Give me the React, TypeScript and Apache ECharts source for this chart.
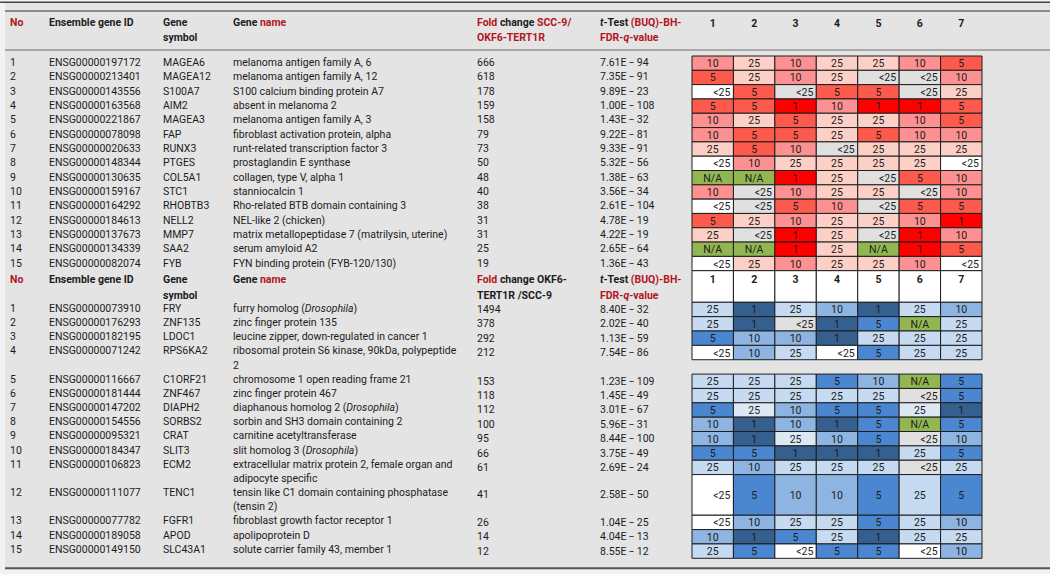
import React, { useEffect, useRef } from "react";
import * as echarts from "echarts";

type Tok = number | "lt" | "ltw" | "na" | "p25";

// ---------- data ----------
const HEAT_COLUMNS = ["1", "2", "3", "4", "5", "6", "7"];

const UP_ID = ["ENSG00000197172", "ENSG00000213401", "ENSG00000143556", "ENSG00000163568", "ENSG00000221867", "ENSG00000078098", "ENSG00000020633", "ENSG00000148344", "ENSG00000130635", "ENSG00000159167", "ENSG00000164292", "ENSG00000184613", "ENSG00000137673", "ENSG00000134339", "ENSG00000082074"];
const UP_SYMBOL = ["MAGEA6", "MAGEA12", "S100A7", "AIM2", "MAGEA3", "FAP", "RUNX3", "PTGES", "COL5A1", "STC1", "RHOBTB3", "NELL2", "MMP7", "SAA2", "FYB"];
const UP_NAME = [
  "melanoma antigen family A, 6",
  "melanoma antigen family A, 12",
  "S100 calcium binding protein A7",
  "absent in melanoma 2",
  "melanoma antigen family A, 3",
  "fibroblast activation protein, alpha",
  "runt-related transcription factor 3",
  "prostaglandin E synthase",
  "collagen, type V, alpha 1",
  "stanniocalcin 1",
  "Rho-related BTB domain containing 3",
  "NEL-like 2 (chicken)",
  "matrix metallopeptidase 7 (matrilysin, uterine)",
  "serum amyloid A2",
  "FYN binding protein (FYB-120/130)",
];
const UP_FOLD = [666, 618, 178, 159, 158, 79, 73, 50, 48, 40, 38, 31, 31, 25, 19];
const UP_Q = ["7.61E−94", "7.35E−91", "9.89E−23", "1.00E−108", "1.43E−32", "9.22E−81", "9.33E−91", "5.32E−56", "1.38E−63", "3.56E−34", "2.61E−104", "4.78E−19", "4.22E−19", "2.65E−64", "1.36E−43"];
const UP_CELLS: Tok[][] = [
  [10, 25, 10, 25, 25, 10, 5],
  [5, 25, 10, 25, "lt", "lt", 10],
  ["ltw", 5, "lt", 5, 5, "lt", 25],
  [5, 5, 1, 10, 1, 1, 5],
  [10, 25, 5, 25, 25, 10, 5],
  [10, 5, 5, 25, 5, 10, 10],
  [25, 5, 10, "lt", 25, 25, 25],
  ["ltw", 10, 25, 25, 25, 25, "ltw"],
  ["na", "na", 1, 25, "lt", 5, 10],
  [10, "lt", 10, 25, 25, "lt", 10],
  ["ltw", "lt", 5, 10, "lt", 5, 5],
  [5, 25, 10, 25, 25, 10, 1],
  [25, "lt", 1, 25, "lt", 1, 10],
  ["na", "na", 1, 25, "na", 1, 5],
  ["ltw", 25, 10, 25, 25, 10, "ltw"],
];

const LO_ID = ["ENSG00000073910", "ENSG00000176293", "ENSG00000182195", "ENSG00000071242", "ENSG00000116667", "ENSG00000181444", "ENSG00000147202", "ENSG00000154556", "ENSG00000095321", "ENSG00000184347", "ENSG00000106823", "ENSG00000111077", "ENSG00000077782", "ENSG00000189058", "ENSG00000149150"];
const LO_SYMBOL = ["FRY", "ZNF135", "LDOC1", "RPS6KA2", "C1ORF21", "ZNF467", "DIAPH2", "SORBS2", "CRAT", "SLIT3", "ECM2", "TENC1", "FGFR1", "APOD", "SLC43A1"];
const LO_NAME = [
  "furry homolog ({i|Drosophila})",
  "zinc finger protein 135",
  "leucine zipper, down-regulated in cancer 1",
  "ribosomal protein S6 kinase, 90kDa, polypeptide\n2",
  "chromosome 1 open reading frame 21",
  "zinc finger protein 467",
  "diaphanous homolog 2 ({i|Drosophila})",
  "sorbin and SH3 domain containing 2",
  "carnitine acetyltransferase",
  "slit homolog 3 ({i|Drosophila})",
  "extracellular matrix protein 2, female organ and\nadipocyte specific",
  "tensin like C1 domain containing phosphatase\n(tensin 2)",
  "fibroblast growth factor receptor 1",
  "apolipoprotein D",
  "solute carrier family 43, member 1",
];
const LO_FOLD = [1494, 378, 292, 212, 153, 118, 112, 100, 95, 66, 61, 41, 26, 14, 12];
const LO_Q = ["8.40E−32", "2.02E−40", "1.13E−59", "7.54E−86", "1.23E−109", "1.45E−49", "3.01E−67", "5.96E−31", "8.44E−100", "3.75E−49", "2.69E−24", "2.58E−50", "1.04E−25", "4.04E−13", "8.55E−12"];
const LO_CELLS: Tok[][] = [
  [25, 1, 25, 10, 1, 25, 10],
  [25, 1, "lt", 1, 5, "na", 25],
  [5, 10, 10, 1, 25, 25, 25],
  ["ltw", 10, 25, "ltw", 5, 25, 25],
  [25, 25, 25, 5, 10, "na", 5],
  [25, 25, 25, 25, 25, "lt", 5],
  [5, "p25", 10, 5, 5, "p25", 1],
  [10, 1, 10, 1, 5, "na", 5],
  [10, 1, "p25", 10, 5, "lt", 10],
  [5, 5, 1, 1, 1, 25, 5],
  [25, 10, 25, 25, 25, "lt", 25],
  ["ltw", 5, 10, 10, 5, 25, 5],
  ["ltw", 10, 25, 25, 5, 25, 10],
  [10, 1, 5, 25, 1, 25, 25],
  [25, 5, "ltw", 5, 5, "ltw", 10],
];

// ---------- layout & style ----------
const FONT = "Roboto";
const FS = 10.5;
const INK = "#1c1c1c";
const RED_INK = "#b3141d";
const BG = "#e4e4e4";
const COL_X = { no: 10, id: 49, sym: 163, name: 233, fold: 477, q: 600 };
const HEAT_LEFT = 692;
const HEAT_WIDTH = 290;
const UP_TOP = 56;
const UP_HEIGHT = 214.7;
const LO_TOP = 270.7;
const LO_BOTTOM = 558.3;
const LO_HEAD_UNITS = 2.2;
const LO_CELL_SPAN = [1, 1, 1, 1, 1, 1, 1, 1, 1, 1, 1, 2.83, 1, 1, 1];
const LO_GAP_BEFORE = [0, 0, 0, 0, 1, 0, 0, 0, 0, 0, 0, 0, 0, 0, 0];
const LO_TEXT_LINE0 = 301.2;
const LO_TEXT_LINE_PX = 14.18;

const RED: Record<string, string> = { "1": "#fe0000", "5": "#fb5a4c", "10": "#fd9191", "25": "#fdd0c7" };
const BLUE: Record<string, string> = { "1": "#345f8f", "5": "#4b87d1", "10": "#8eb4e1", "25": "#c6daf1", p25: "#dde8f5" };

const RICH: any = {
  i: { fontStyle: "italic", fontSize: FS, fontFamily: FONT, fill: INK },
  b: { fontWeight: "bold", fontSize: FS, fontFamily: FONT, fill: INK },
  bi: { fontWeight: "bold", fontStyle: "italic", fontSize: FS, fontFamily: FONT, fill: INK },
  r: { fontWeight: "bold", fontSize: FS, fontFamily: FONT, fill: RED_INK },
  ri: { fontWeight: "bold", fontStyle: "italic", fontSize: FS, fontFamily: FONT, fill: RED_INK },
};

function txt(text: string, x: number, y: number, extra: any = {}) {
  const style: any = {
    text, x, y, fill: INK, fontSize: FS, fontFamily: FONT,
    align: "left", verticalAlign: "middle", ...extra,
  };
  if (text.indexOf("{") >= 0) style.rich = RICH;
  return { type: "text", silent: true, style };
}

const fmtQ = (q: string) => q.replace("−", "\u2009\u2212\u2009");

function cellStyle(tok: Tok, pal: Record<string, string>) {
  if (tok === "lt") return { fill: "#e0e0e0", label: "<25", right: true };
  if (tok === "ltw") return { fill: "#ffffff", label: "<25", right: true };
  if (tok === "na") return { fill: "#92b752", label: "N/A", right: false };
  if (tok === "p25") return { fill: pal.p25, label: "25", right: false };
  return { fill: pal[String(tok)], label: String(tok), right: false };
}

function cellRenderer(tokens: Tok[], pal: Record<string, string>) {
  return (params: any, api: any) => {
    const c = api.value(0);
    const p0 = api.coord([c, api.value(1)]);
    const p1 = api.coord([c, api.value(2)]);
    const w = api.size([1, 0])[0];
    const x = p0[0] - w / 2;
    const top = Math.min(p0[1], p1[1]);
    const h = Math.abs(p1[1] - p0[1]);
    const s = cellStyle(tokens[params.dataIndex], pal);
    return {
      type: "group",
      children: [
        { type: "rect", shape: { x, y: top, width: w, height: h }, style: { fill: s.fill, stroke: "#1e1e1e", lineWidth: 1 } },
        txt(s.label, s.right ? x + w - 3 : x + w / 2, top + h / 2 + 0.5, { align: s.right ? "right" : "center" }),
      ],
    };
  };
}

function headerLines(cols: { x: number; lines: string[] }[], y1: number, dy: number) {
  const out: any[] = [];
  cols.forEach((c) => c.lines.forEach((l, k) => out.push({ ...txt(l, c.x, y1 + k * dy), z: 10 })));
  return out;
}

const UP_HEADER = [
  { x: COL_X.no, lines: ["{r|No}"] },
  { x: COL_X.id, lines: ["{b|Ensemble gene ID}"] },
  { x: COL_X.sym, lines: ["{b|Gene}", "{b|symbol}"] },
  { x: COL_X.name, lines: ["{b|Gene }{r|name}"] },
  { x: COL_X.fold, lines: ["{r|Fold}{b| change }{r|SCC-9/}", "{r|OKF6-TERT1R}"] },
  { x: COL_X.q, lines: ["{bi|t}{b|-Test }{r|(BUQ)-BH-}", "{r|FDR-}{ri|q}{r|-value}"] },
];
const LO_HEADER = [
  { x: COL_X.no, lines: ["{r|No}"] },
  { x: COL_X.id, lines: ["{b|Ensemble gene ID}"] },
  { x: COL_X.sym, lines: ["{b|Gene}", "{b|symbol}"] },
  { x: COL_X.name, lines: ["{b|Gene }{r|name}"] },
  { x: COL_X.fold, lines: ["{r|Fold}{b| change OKF6-}", "{b|TERT1R /SCC-9}"] },
  { x: COL_X.q, lines: ["{bi|t}{b|-Test }{r|(BUQ)-BH-}", "{r|FDR-}{ri|q}{r|-value}"] },
];

function buildOption(): any {
  // upper cells
  const upCellData: number[][] = [];
  const upTok: Tok[] = [];
  UP_CELLS.forEach((row, r) => row.forEach((t, c) => { upCellData.push([c, r, r + 1]); upTok.push(t); }));

  // lower cells
  const loTops: number[] = [];
  let acc = 0;
  LO_CELL_SPAN.forEach((s, i) => { acc += LO_GAP_BEFORE[i]; loTops.push(acc); acc += s; });
  const loEnd = acc;
  const loCellData: number[][] = [];
  const loTok: Tok[] = [];
  LO_CELLS.forEach((row, r) => row.forEach((t, c) => { loCellData.push([c, loTops[r], loTops[r] + LO_CELL_SPAN[r]]); loTok.push(t); }));

  // lower text lines
  const loLineStart: number[] = [];
  let line = 0;
  LO_NAME.forEach((n) => { loLineStart.push(line); line += n.split("\n").length; });

  const loPx = LO_BOTTOM - LO_TOP;
  const textMin = -(LO_TEXT_LINE0 - LO_TOP) / LO_TEXT_LINE_PX;
  const textMax = textMin + loPx / LO_TEXT_LINE_PX;

  const upTextSeries = {
    type: "custom", xAxisIndex: 0, yAxisIndex: 0, silent: true, z: 5,
    data: UP_ID.map((_, i) => [0, i]),
    renderItem: (params: any, api: any) => {
      const i = params.dataIndex;
      const y = api.coord([0, api.value(1) + 0.5])[1] - 0.5;
      return {
        type: "group",
        children: [
          txt(String(i + 1), COL_X.no, y),
          txt(UP_ID[i], COL_X.id, y),
          txt(UP_SYMBOL[i], COL_X.sym, y),
          txt(UP_NAME[i], COL_X.name, y),
          txt(String(UP_FOLD[i]), COL_X.fold, y),
          txt(fmtQ(UP_Q[i]), COL_X.q, y),
        ],
      };
    },
  };

  const loTextSeries = {
    type: "custom", xAxisIndex: 1, yAxisIndex: 2, silent: true, z: 5,
    data: LO_ID.map((_, i) => [0, loLineStart[i]]),
    renderItem: (params: any, api: any) => {
      const i = params.dataIndex;
      const l0 = api.value(1);
      const y = api.coord([0, l0 + 0.5])[1];
      const kids: any[] = [
        txt(String(i + 1), COL_X.no, y),
        txt(LO_ID[i], COL_X.id, y),
        txt(LO_SYMBOL[i], COL_X.sym, y),
      ];
      LO_NAME[i].split("\n").forEach((part, k) => {
        kids.push(txt(part, COL_X.name, api.coord([0, l0 + k + 0.5])[1]));
      });
      return { type: "group", children: kids };
    },
  };

  const loValueSeries = {
    type: "custom", xAxisIndex: 1, yAxisIndex: 1, silent: true, z: 5,
    data: LO_FOLD.map((_, i) => [0, loTops[i], loTops[i] + LO_CELL_SPAN[i]]),
    renderItem: (params: any, api: any) => {
      const i = params.dataIndex;
      const y = (api.coord([0, api.value(1)])[1] + api.coord([0, api.value(2)])[1]) / 2;
      return {
        type: "group",
        children: [txt(String(LO_FOLD[i]), COL_X.fold, y), txt(fmtQ(LO_Q[i]), COL_X.q, y)],
      };
    },
  };

  const loHeadSeries = {
    type: "custom", xAxisIndex: 1, yAxisIndex: 1, silent: true, z: 3,
    data: HEAT_COLUMNS.map((_, c) => [c, -LO_HEAD_UNITS, 0]),
    renderItem: (params: any, api: any) => {
      const c = api.value(0);
      const p0 = api.coord([c, api.value(1)]);
      const p1 = api.coord([c, api.value(2)]);
      const w = api.size([1, 0])[0];
      return {
        type: "group",
        children: [
          { type: "rect", shape: { x: p0[0] - w / 2, y: p0[1], width: w, height: p1[1] - p0[1] }, style: { fill: "#ffffff", stroke: "#1e1e1e", lineWidth: 1 } },
          txt(HEAT_COLUMNS[params.dataIndex], p0[0], p0[1] + 8.5, { align: "center", fontWeight: "bold" }),
        ],
      };
    },
  };

  const W = 1050;
  const graphics: any[] = [
    { type: "rect", shape: { x: 0, y: 0, width: 5, height: 574 }, style: { fill: "#f2f2f2" }, z: 1 },
    { type: "rect", shape: { x: 0, y: 0, width: W, height: 1.5 }, style: { fill: "#f2f2f2" }, z: 1 },
    { type: "rect", shape: { x: 0, y: 569.5, width: W, height: 5 }, style: { fill: "#f2f2f2" }, z: 1 },
    { type: "line", shape: { x1: 0, y1: 2.2, x2: W, y2: 2.2 }, style: { stroke: "#454545", lineWidth: 1.6 }, z: 2 },
    { type: "line", shape: { x1: 5, y1: 11, x2: W, y2: 11 }, style: { stroke: "#8c8c8c", lineWidth: 2 }, z: 2 },
    { type: "line", shape: { x1: 5, y1: 50, x2: W, y2: 50 }, style: { stroke: "#959595", lineWidth: 1.5 }, z: 2 },
    { type: "line", shape: { x1: 5, y1: 568.3, x2: W, y2: 568.3 }, style: { stroke: "#555555", lineWidth: 2 }, z: 2 },
    ...headerLines(UP_HEADER, 22.5, 14.5),
    ...headerLines(LO_HEADER, 279.5, 15.5),
  ];

  return {
    animation: false,
    backgroundColor: BG,
    textStyle: { fontFamily: FONT },
    graphic: { elements: graphics },
    grid: [
      { left: HEAT_LEFT, width: HEAT_WIDTH, top: UP_TOP, height: UP_HEIGHT },
      { left: HEAT_LEFT, width: HEAT_WIDTH, top: LO_TOP, height: loPx },
    ],
    xAxis: [
      {
        gridIndex: 0, type: "category", data: HEAT_COLUMNS, position: "top",
        axisLine: { show: false }, axisTick: { show: false }, splitLine: { show: false },
        axisLabel: { margin: 27, fontWeight: "bold", fontSize: FS, fontFamily: FONT, color: INK },
      },
      { gridIndex: 1, type: "category", data: HEAT_COLUMNS, show: false },
    ],
    yAxis: [
      { gridIndex: 0, type: "value", min: 0, max: UP_CELLS.length, inverse: true, show: false },
      { gridIndex: 1, type: "value", min: -LO_HEAD_UNITS, max: loEnd, inverse: true, show: false },
      { gridIndex: 1, type: "value", min: textMin, max: textMax, inverse: true, show: false },
    ],
    series: [
      { type: "custom", xAxisIndex: 0, yAxisIndex: 0, silent: true, z: 3, data: upCellData, renderItem: cellRenderer(upTok, RED) },
      upTextSeries,
      loHeadSeries,
      { type: "custom", xAxisIndex: 1, yAxisIndex: 1, silent: true, z: 3, data: loCellData, renderItem: cellRenderer(loTok, BLUE) },
      loValueSeries,
      loTextSeries,
    ],
  };
}

export default function App() {
  const ref = useRef<HTMLDivElement>(null);
  useEffect(() => {
    if (!ref.current) return;
    const chart = echarts.init(ref.current, undefined, { renderer: "svg" });
    chart.setOption(buildOption());
    return () => chart.dispose();
  }, []);
  return <div ref={ref} style={{ position: "absolute", left: 0, top: 0, width: 1050, height: 574 }} />;
}
